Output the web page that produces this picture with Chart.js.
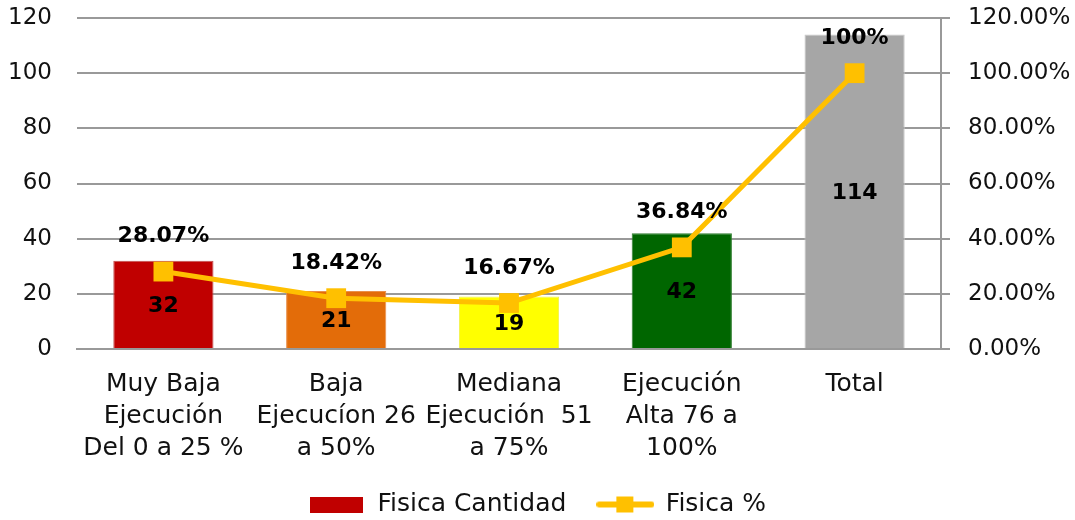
<!DOCTYPE html>
<html>
<head>
<meta charset="utf-8">
<script src="https://cdn.jsdelivr.net/npm/chart.js@4"></script>
<style>
  body { margin: 0; background: #fff; }
  #wrap { width: 1075px; height: 520px; }
</style>
</head>
<body>
<div id="wrap"><canvas id="myChart" width="1075" height="520"></canvas></div>
<script>
// data //
const categorias = [
    ['Muy Baja', 'Ejecución', 'Del 0 a 25 %'],
    ['Baja', 'Ejecucíon 26', 'a 50%'],
    ['Mediana', 'Ejecución  51', 'a 75%'],
    ['Ejecución', 'Alta 76 a', '100%'],
    ['Total']
];
const fisicaCantidad = [32, 21, 19, 42, 114];
const fisicaPorcentaje = [28.07, 18.42, 16.67, 36.84, 100];
const colores = ['#C00000', '#E36C09', '#FFFF00', '#006600', '#A6A6A6'];
const leftTicks = [0, 20, 40, 60, 80, 100, 120];
const rightTicks = [0, 20, 40, 60, 80, 100, 120];

// functions //
function pctText(v) {
    return Number.isInteger(v) ? v + '%' : v.toFixed(2) + '%';
}

function swatch(w, h, draw) {
    const c = document.createElement('canvas');
    c.width = w;
    c.height = h;
    draw(c.getContext('2d'));
    return c;
}

const redBox = swatch(53, 16, (g) => {
    g.fillStyle = '#C00000';
    g.fillRect(0, 0, 53, 16);
});
const lineBox = swatch(58, 20, (g) => {
    g.strokeStyle = '#FFC000';
    g.lineWidth = 6;
    g.lineCap = 'round';
    g.beginPath();
    g.moveTo(3, 10);
    g.lineTo(55, 10);
    g.stroke();
    g.fillStyle = '#FFC000';
    g.fillRect(20, 2, 17, 16);
});

// etiquetas de valores nad body a sloupce
const valueLabels = {
    id: 'valueLabels',
    afterDatasetsDraw(chart) {
        const ctx = chart.ctx;
        ctx.save();
        ctx.font = 'bold 22px "DejaVu Sans"';
        ctx.fillStyle = '#000';
        ctx.textAlign = 'center';
        ctx.textBaseline = 'middle';
        chart.getDatasetMeta(0).data.forEach((bar, i) => {
            ctx.fillText(fisicaCantidad[i], bar.x, (bar.y + bar.base) / 2 + 2);
        });
        chart.getDatasetMeta(1).data.forEach((pt, i) => {
            ctx.fillText(pctText(fisicaPorcentaje[i]), pt.x, pt.y - 35);
        });
        ctx.restore();
    }
};

// bez extra mezery nahore/dole u os
function noVerticalPadding(s) {
    s.paddingTop = 0;
    s.paddingBottom = 0;
}

Chart.defaults.font.family = '"DejaVu Sans"';
Chart.defaults.color = '#111';

let ctx = document.getElementById('myChart').getContext('2d');
let myChart = new Chart(ctx, {
    type: 'bar',
    data: {
        labels: categorias,
        datasets: [
            {
                label: 'Fisica Cantidad',
                data: fisicaCantidad,
                backgroundColor: colores,
                borderColor: ['#C0504D', '#E98F4A', '#F2F24A', '#2E7D2E', '#C8C8C8'],
                borderWidth: 1,
                barPercentage: 0.58,
                categoryPercentage: 1,
                yAxisID: 'y',
                order: 1
            },
            {
                type: 'line',
                label: 'Fisica %',
                data: fisicaPorcentaje,
                borderColor: '#FFC000',
                backgroundColor: '#FFC000',
                borderWidth: 5,
                pointStyle: 'rect',
                pointRadius: 14,
                pointHoverRadius: 14,
                pointBorderWidth: 0,
                tension: 0,
                yAxisID: 'y1',
                order: 0
            }
        ]
    },
    options: {
        responsive: false,
        animation: false,
        layout: { padding: { top: 18, left: 0, right: 0, bottom: -7 } },
        plugins: {
            tooltip: { enabled: false },
            legend: {
                position: 'bottom',
                labels: {
                    usePointStyle: true,
                    pointStyleWidth: 56,
                    font: { size: 25 },
                    color: '#111',
                    padding: 6,
                    generateLabels: () => [
                        { text: 'Fisica Cantidad\u2003', pointStyle: redBox, fillStyle: '#C00000', strokeStyle: '#C00000', lineWidth: 0, datasetIndex: 0, hidden: false, fontColor: '#111' },
                        { text: 'Fisica %', pointStyle: lineBox, fillStyle: '#FFC000', strokeStyle: '#FFC000', lineWidth: 0, datasetIndex: 1, hidden: false, fontColor: '#111' }
                    ]
                }
            }
        },
        scales: {
            x: {
                grid: { display: false, drawTicks: false },
                border: { display: true, color: '#999', width: 2 },
                ticks: { font: { size: 25, lineHeight: 1.28 }, padding: 19, maxRotation: 0, autoSkip: false, color: '#111' },
                afterFit: (s) => { s.height = 137; }
            },
            y: {
                position: 'left',
                min: 0,
                max: 120,
                afterBuildTicks: (s) => { s.ticks = leftTicks.map(v => ({ value: v })); },
                grid: { color: '#999', lineWidth: 2, drawTicks: false },
                border: { display: false },
                ticks: { font: { size: 23 }, padding: 25, color: '#111' },
                afterFit: (s) => { s.width = 77; noVerticalPadding(s); }
            },
            y1: {
                position: 'right',
                min: 0,
                max: 120,
                afterBuildTicks: (s) => { s.ticks = rightTicks.map(v => ({ value: v })); },
                grid: { drawOnChartArea: false, drawTicks: true, tickLength: 9, color: '#999', lineWidth: 2 },
                border: { display: true, color: '#999', width: 2 },
                ticks: { font: { size: 23 }, padding: 18, color: '#111', callback: (v) => v.toFixed(2) + '%' },
                afterFit: (s) => { s.width = 134; noVerticalPadding(s); }
            }
        }
    },
    plugins: [valueLabels]
});
</script>
</body>
</html>
